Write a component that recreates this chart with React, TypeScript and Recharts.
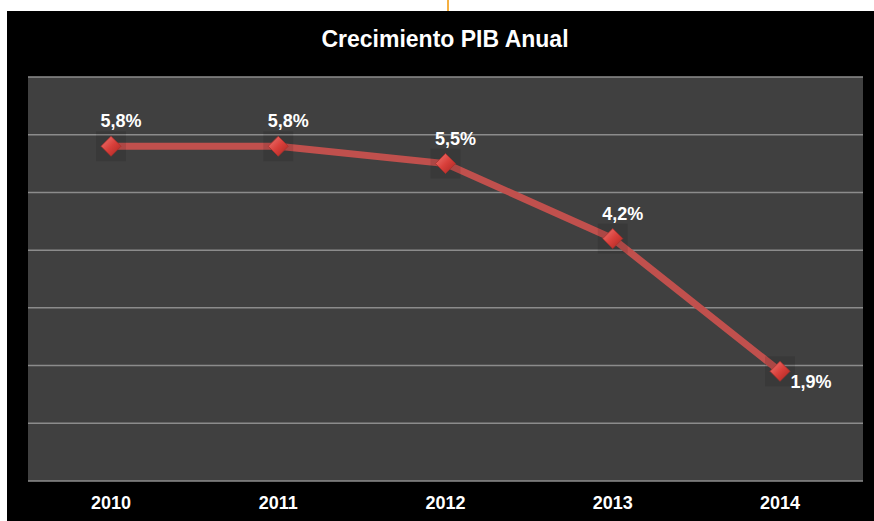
import React from "react";
import { LineChart, Line, XAxis, YAxis, CartesianGrid, LabelList } from "recharts";

const years = ["2010", "2011", "2012", "2013", "2014"];
const growth = [5.8, 5.8, 5.5, 4.2, 1.9];
const yTicks = [0, 1, 2, 3, 4, 5, 6, 7];
const title = "Crecimiento PIB Anual";

const data = years.map((y, i) => ({ year: y, value: growth[i] }));

const FONT = "'Liberation Sans', Arial, sans-serif";

const Diamond = (props: any) => {
  const { cx, cy, index } = props;
  if (cx == null || cy == null) return null;
  const s = 10;
  return (
    <g key={`d-${index}`}>
      <rect x={cx - 15} y={cy - 15} width={30} height={30} fill="#000" opacity={0.1} />
      <path
        d={`M${cx},${cy - s} L${cx + s},${cy} L${cx},${cy + s} L${cx - s},${cy} Z`}
        fill="url(#diamondGrad)"
        stroke="#a8302c"
        strokeWidth={0.8}
      />
    </g>
  );
};

const renderLabel = (props: any) => {
  const { x, y, value, index } = props;
  const txt = `${String(value).replace(".", ",")}%`;
  const last = index === growth.length - 1;
  return (
    <text
      key={`l-${index}`}
      x={last ? x + 31 : x + 10}
      y={last ? y + 17 : y - 19}
      fill="#ffffff"
      fontFamily={FONT}
      fontWeight="bold"
      fontSize={18}
      textAnchor="middle"
    >
      {txt}
    </text>
  );
};

export default function App() {
  return (
    <div style={{ position: "absolute", left: 0, top: 0, width: 874, height: 521, background: "#fff", overflow: "hidden" }}>
      <div style={{ position: "absolute", left: 447, top: 0, width: 2, height: 11, background: "#f5b041" }} />
      <div style={{ position: "absolute", left: 7, top: 11, width: 867, height: 510, background: "#000" }} />
      <div style={{ position: "absolute", left: 0, top: 0 }}>
        <LineChart width={874} height={521} data={data} margin={{ top: 77, right: 11, bottom: 10, left: 28 }}>
          <defs>
            <linearGradient id="diamondGrad" x1="0" y1="0" x2="1" y2="1">
              <stop offset="0%" stopColor="#f07a76" />
              <stop offset="50%" stopColor="#d9403b" />
              <stop offset="100%" stopColor="#a82420" />
            </linearGradient>
          </defs>
          <text
            x={445}
            y={47}
            fill="#ffffff"
            fontFamily={FONT}
            fontWeight="bold"
            fontSize={23}
            textAnchor="middle"
          >
            {title}
          </text>
          <CartesianGrid vertical={false} stroke="#8c8c8c" strokeWidth={1.5} fill="#404040" />
          <XAxis
            dataKey="year"
            axisLine={false}
            tickLine={false}
            padding={{ left: 83, right: 83 }}
            tick={{ fill: "#ffffff", fontFamily: FONT, fontWeight: "bold", fontSize: 18 }}
            dy={7}
          />
          <YAxis hide domain={[0, 7]} ticks={yTicks} />
          <Line
            type="linear"
            dataKey="value"
            stroke="#c0504d"
            strokeWidth={7}
            dot={<Diamond />}
            activeDot={false}
            isAnimationActive={false}
          >
            <LabelList dataKey="value" content={renderLabel} />
          </Line>
        </LineChart>
      </div>
    </div>
  );
}
